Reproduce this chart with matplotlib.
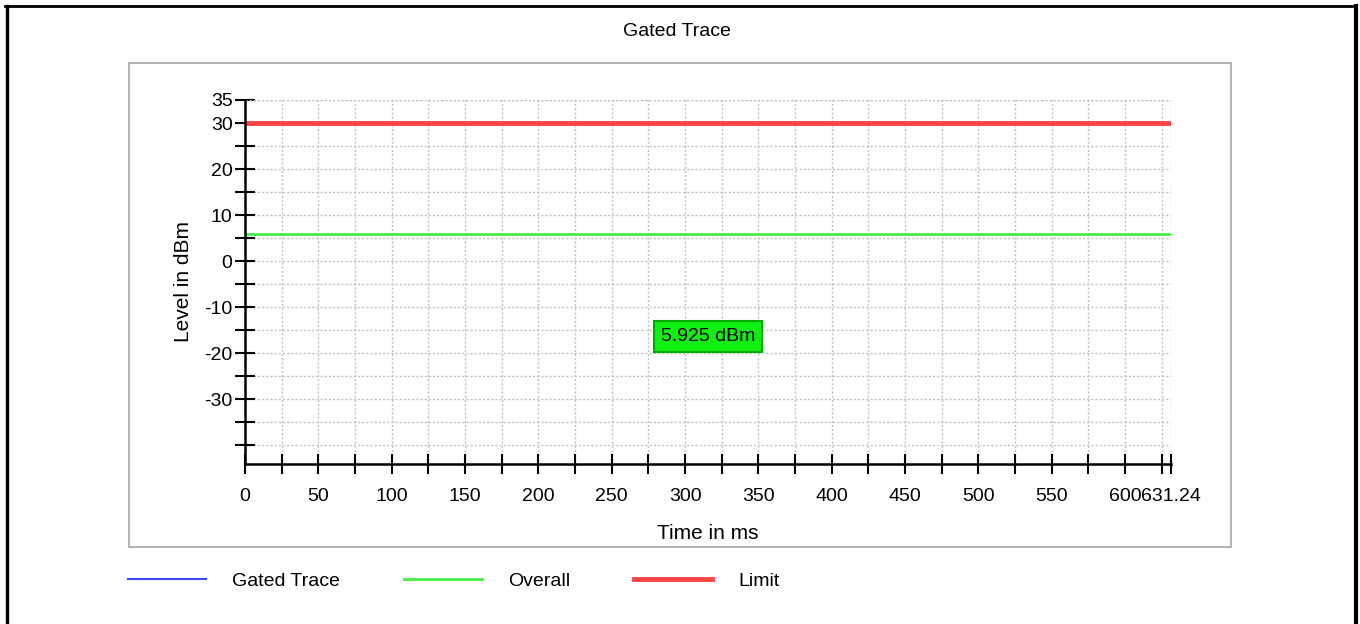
import numpy as np
import matplotlib
matplotlib.use("Agg")
import matplotlib.pyplot as plt
from matplotlib.lines import Line2D
from matplotlib.patches import Rectangle

plt.rcParams['font.family'] = ['Liberation Sans Narrow', 'Liberation Sans', 'DejaVu Sans']

# data
time_range = [0, 631.24]
gated_trace = []          # no samples shown in the trace
overall_level = 5.925     # dBm
limit_level = 30          # dBm
y_range = [-44.13, 35]

x_ticks = list(np.arange(0, 626, 25)) + [631.24]
x_labels = [str(int(t)) if t % 50 == 0 else "" for t in x_ticks[:-1]] + ["631.24"]
y_ticks = list(np.arange(-40, 36, 5))
y_labels = [str(v) if (v % 10 == 0 and v >= -30) or v == 35 else "" for v in y_ticks]

W, H = 1360, 624
fig = plt.figure(figsize=(W / 100, H / 100), dpi=100)

def fx(px):
    return px / W

def fy(py):
    return 1 - py / H

# outer black frame
fig.add_artist(Line2D([fx(6.5), fx(6.5)], [fy(6), 0], color='black', lw=2.4))
fig.add_artist(Line2D([fx(5), fx(1356)], [fy(6), fy(6)], color='black', lw=2.0))
fig.add_artist(Line2D([fx(1355.5), fx(1355.5)], [fy(6), 0], color='black', lw=3.0))

# gray chart panel
fig.add_artist(Rectangle((fx(129), fy(547)), fx(1231 - 129), (547 - 63) / H,
                         facecolor='none', edgecolor='#b4b4b4', lw=1.5))

ax = fig.add_axes([fx(245), fy(464), fx(1171 - 245), (464 - 100) / H])
ax.set_xlim(time_range)
ax.set_ylim(y_range)

ax.plot(gated_trace, gated_trace, color='#4444ff', lw=1.5, label='Gated Trace')
ax.plot(time_range, [overall_level] * 2, color='#44ee44', lw=2, label='Overall')
ax.plot(time_range, [limit_level] * 2, color='#ff4444', lw=3.5, label='Limit')

ax.set_xticks(x_ticks)
ax.set_xticklabels(x_labels)
ax.set_yticks(y_ticks)
ax.set_yticklabels(y_labels)
ax.tick_params(direction='inout', length=14, width=1.5, labelsize=14, colors='black')
ax.tick_params(axis='x', pad=10)
ax.tick_params(axis='y', pad=2)
ax.grid(True, color='#c0c0c0', linestyle=(0, (1.5, 1.5)), lw=1)
ax.axhline(y_range[1], color='#c0c0c0', linestyle=(0, (1.5, 1.5)), lw=1)
for side in ['top', 'right']:
    ax.spines[side].set_visible(False)
for side in ['left', 'bottom']:
    ax.spines[side].set_linewidth(1.8)

ax.set_xlabel("Time in ms", fontsize=15, fontfamily='Liberation Sans', labelpad=14)
ax.set_ylabel("Level in dBm", fontsize=15, fontfamily='Liberation Sans', labelpad=8)

ax.text(np.mean(time_range), 0.35, f"{overall_level:.3f} dBm", transform=ax.get_xaxis_transform(),
        ha='center', va='center', fontsize=14,
        bbox=dict(boxstyle='square,pad=0.35', facecolor='#11ee11', edgecolor='#00aa00', lw=1.5))

fig.text(fx(677), fy(31), "Gated Trace", ha='center', va='center', fontsize=14)

fig.legend(loc='center left', bbox_to_anchor=(fx(128), fy(581)), ncol=3, frameon=False,
           fontsize=14, handlelength=4.0, handletextpad=1.35, columnspacing=3.3,
           borderpad=0, borderaxespad=0)

fig.savefig("out.png", dpi=100, facecolor='white')
